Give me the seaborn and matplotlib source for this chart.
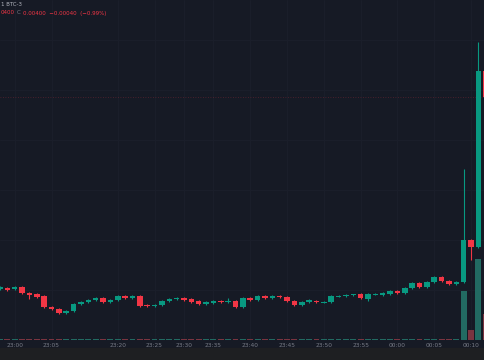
import numpy as np
import pandas as pd
import matplotlib
matplotlib.use("Agg")
import matplotlib.pyplot as plt
from matplotlib.patches import Rectangle
import seaborn as sns

# prices in units of 1e-5 BTC, one candle per minute
opens = [399, 400, 399, 401, 395, 394, 392, 381, 379, 375, 377, 384, 386, 388, 390, 386, 388,
         392, 390, 392, 383, 382, 383, 387, 389, 390, 389, 387, 384, 385, 387, 386, 387, 381,
         390, 388, 392, 390, 392, 391, 387, 383, 386, 387, 385.5, 386, 391.5, 392, 393, 394,
         389, 393.5, 393, 394, 397, 395, 400, 405, 401, 406, 411, 407, 404, 406, 448, 441, 617]
closes = [401, 398, 401, 395, 393, 391, 381, 379, 375, 377, 384, 386, 388, 390, 386, 388, 392,
          390, 392, 382, 382, 383, 387, 389, 390, 388, 386, 384, 386, 387, 386, 387, 381, 390,
          388, 392, 390, 392, 391, 387, 383, 386, 388, 386, 386, 392, 392, 393, 393.3, 390,
          394, 394, 395, 397, 395, 400, 405, 401, 406, 411, 407, 404, 406, 448, 441, 617, 591]
highs = [402, 401, 402, 402, 396, 395, 393, 382, 380, 378, 385, 387, 389, 391, 391, 389, 393,
         393, 393, 393, 384, 384, 388, 390, 391, 391, 390, 388, 387, 388, 388, 390, 388, 391,
         391, 393, 393, 393, 393, 392, 388, 387, 389, 388, 387, 393, 393, 394, 394, 395,
         395, 395, 396, 398, 398, 401, 406, 406, 407, 412, 412, 408, 407, 519, 449, 646, 618]
lows = [398, 397, 398, 394, 389, 390, 380, 378, 374, 374, 376, 383, 385, 387, 385, 385, 387,
        389, 389, 381, 381, 381, 382, 386, 388, 387, 385, 383, 383, 384, 385, 385, 380, 380,
        387, 387, 389, 389, 390, 386, 382, 382, 385, 385, 385, 385, 391, 391, 392, 389,
        387, 393, 392, 393, 394, 394, 399, 400, 400, 405, 406, 403, 403, 405, 428, 440, 590]
volumes = [1, 1.5, 1, 1.5, 1.5, 1, 1.5, 1, 1, 1, 1.5, 1, 1, 1, 1, 1, 1,
           1, 1, 1, 1, 1, 1.5, 1, 1, 1.5, 1.5, 1.5, 1, 1.5, 1, 1, 1, 1.5,
           1, 1, 1, 1, 1, 1, 1.5, 1, 1, 1, 1, 1.5, 1, 1, 1, 1,
           1.5, 1, 1, 1, 1, 1.5, 1.5, 1, 1, 1, 1, 1, 1, 49, 10, 81, 26]
tick_pos = [2, 7, 16, 21, 25, 29, 34, 39, 44, 49, 54, 59, 64]
tick_labels = ["23:00", "23:05", "23:20", "23:25", "23:30", "23:35", "23:40",
               "23:45", "23:50", "23:55", "00:00", "00:05", "00:10"]
grid_prices = [648, 598, 548, 498, 448, 398]

BG = "#161a25"
UP = "#089981"
DN = "#f23645"
VUP = "#226a62"
VDN = "#7a3440"
TXT = "#787b86"

sns.set_theme(style="dark", rc={"axes.facecolor": BG, "figure.facecolor": BG,
                                "grid.color": "#1b1f2b", "grid.linewidth": 0.6})
plt.rcParams["font.family"] = ["DejaVu Sans"]

df = pd.DataFrame({"idx": np.arange(len(opens)), "open": opens, "close": closes,
                   "high": highs, "low": lows, "volume": volumes})
df["dir"] = np.where(df["close"] >= df["open"], "up", "down")

fig = plt.figure(figsize=(4.85, 3.6), dpi=100)
ax = fig.add_axes([0, 20 / 360, 1, 340 / 360])
axv = ax.twinx()

# volume overlay (in front of the grid)
sns.barplot(data=df, x="idx", y="volume", hue="dir", palette={"up": VUP, "down": VDN},
            native_scale=True, dodge=False, width=0.8, saturation=1,
            legend=False, linewidth=0, ax=axv)
axv.set_ylim(0, max(volumes) * 340 / 81)
axv.set_axis_off()

# candles
colors = [UP if d == "up" else DN for d in df["dir"]]
ax.vlines(df["idx"], df["low"], df["high"], colors=colors, linewidth=0.8, zorder=3)
bottoms = np.minimum(df["open"], df["close"])
heights = np.maximum(np.abs(df["close"] - df["open"]), 0.6)
ax.bar(df["idx"], heights, bottom=bottoms, width=0.75, color=colors, linewidth=0, zorder=4)

ax.axhline(closes[-1], color=DN, alpha=0.3, lw=0.6, ls=(0, (1, 2)), zorder=2)

ax.set_xlim(0, 65.9)
ax.set_ylim(348, 688)
ax.set_yticks(grid_prices)
ax.set_yticklabels([])
ax.set_xticks(tick_pos)
ax.set_xticklabels(tick_labels, fontsize=4.2, color=TXT)
ax.tick_params(axis="x", length=0, pad=2)
ax.tick_params(axis="y", length=0)
ax.grid(True, zorder=0)
for s in ax.spines.values():
    s.set_visible(False)
ax.set_xlabel("")
ax.set_ylabel("")

fig.add_artist(Rectangle((0, 0), 1, 12 / 360, transform=fig.transFigure,
                         color="#1e1f22", zorder=0))

fig.text(0.002, 1 - 5 / 360, "1 BTC-3", fontsize=4, color="#b2b5be", va="center", ha="left")
fig.text(0.002, 1 - 13 / 360, "0400", fontsize=4, color=DN, va="center", ha="left")
fig.text(0.035, 1 - 13 / 360, "C", fontsize=4, color=TXT, va="center", ha="left")
fig.text(0.047, 1 - 13 / 360, "0.00400  −0.00040  (−0.99%)", fontsize=4, color=DN,
         va="center", ha="left")

fig.savefig("out.png", dpi=100, facecolor=BG)
